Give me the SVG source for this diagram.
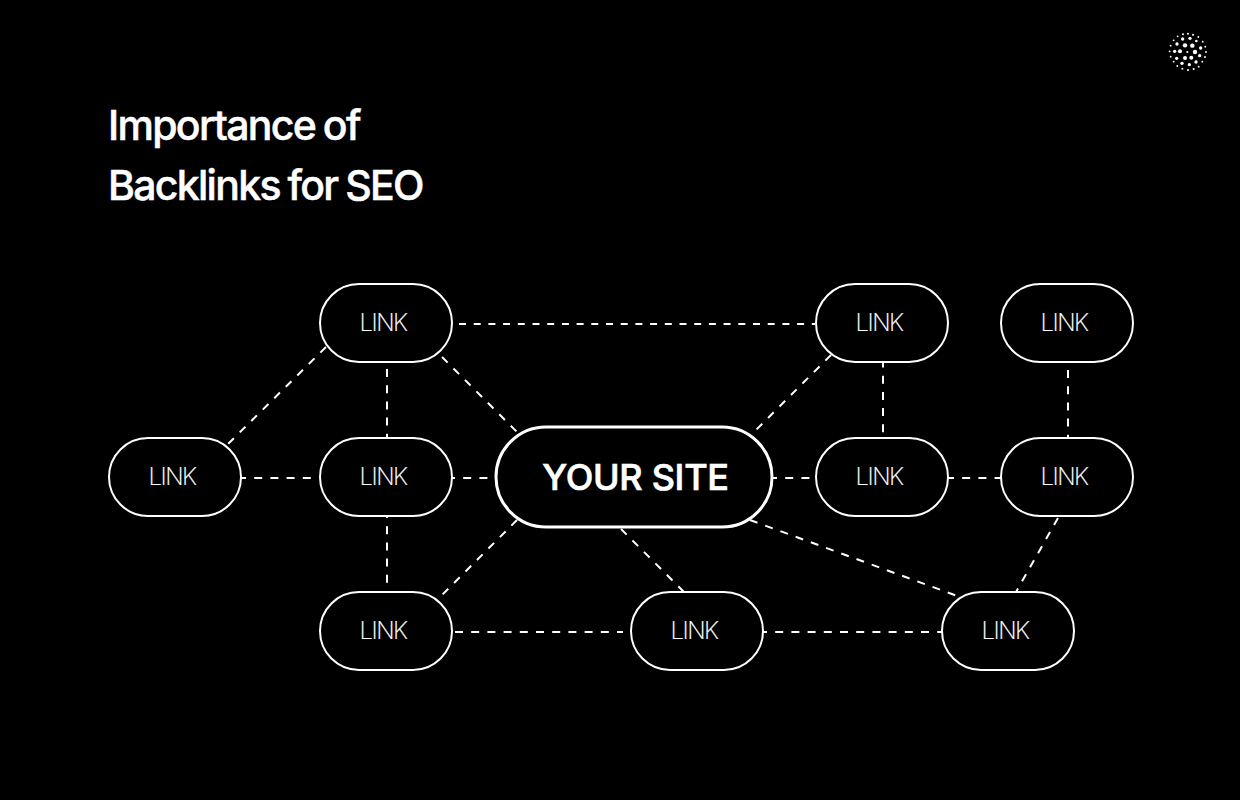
<svg xmlns="http://www.w3.org/2000/svg" width="1240" height="800" viewBox="0 0 1240 800">
<style>
.n{fill:#000;stroke:#fff;stroke-width:2}
.c{fill:#000;stroke:#fff;stroke-width:3}
.l{font-family:Inter,"Liberation Sans",sans-serif;font-weight:200;font-size:24px;fill:#fff;stroke:#fff;stroke-width:0.2px;text-anchor:middle;letter-spacing:-1.5px}
.m{font-family:Inter,"Liberation Sans",sans-serif;font-weight:500;font-size:36px;fill:#fff;stroke:#fff;stroke-width:0.7px;text-anchor:middle;letter-spacing:-0.3px}
.t{font-family:Inter,"Liberation Sans",sans-serif;font-weight:500;font-size:41px;fill:#fff;stroke:#fff;stroke-width:0.5px;letter-spacing:-1.7px;word-spacing:-1.5px}
#connectors line{stroke:#fff;stroke-width:2;stroke-dasharray:8 8.2;fill:none}
#logo circle{fill:#fff}
</style>
<rect width="1240" height="800" fill="#000"/>
<g id="logo" transform="translate(1160 24) scale(0.3333)">
<circle cx="69" cy="31" r="3.1"/><circle cx="84" cy="29" r="3.1"/><circle cx="99" cy="32" r="3.1"/>
<circle cx="53" cy="37" r="2.8"/><circle cx="115" cy="39" r="2.8"/><circle cx="41" cy="49" r="2.8"/><circle cx="128" cy="53" r="2.8"/>
<circle cx="68" cy="45" r="5"/><circle cx="90" cy="43" r="5"/><circle cx="109" cy="51" r="3.9"/>
<circle cx="51" cy="60" r="5"/><circle cx="75" cy="64" r="6.6"/><circle cx="97" cy="65" r="6.6"/>
<circle cx="32" cy="65" r="2.8"/><circle cx="136" cy="68" r="2.8"/><circle cx="122" cy="72" r="5"/>
<circle cx="29" cy="82" r="2.8"/><circle cx="44" cy="82" r="5"/><circle cx="60" cy="82" r="6"/><circle cx="82" cy="84" r="3.3"/><circle cx="105" cy="84" r="6.6"/><circle cx="138" cy="84" r="2.8"/>
<circle cx="32" cy="98" r="2.8"/><circle cx="50" cy="103" r="5"/><circle cx="75" cy="102" r="6"/><circle cx="94" cy="101" r="6"/><circle cx="119" cy="95" r="5"/><circle cx="135" cy="99" r="2.8"/>
<circle cx="41" cy="113" r="2.8"/><circle cx="66" cy="118" r="5"/><circle cx="88" cy="122" r="5"/><circle cx="108" cy="114" r="5"/><circle cx="127" cy="113" r="2.8"/>
<circle cx="52" cy="126" r="2.8"/><circle cx="116" cy="128" r="2.8"/><circle cx="67" cy="134" r="3.1"/><circle cx="84" cy="138" r="3.1"/><circle cx="101" cy="135" r="3.1"/>
</g>
<text class="t" x="108" y="140">Importance of</text>
<text class="t" x="108" y="200">Backlinks for SEO</text>
<g id="connectors">
<line x1="459" y1="324" x2="815" y2="324" style="stroke-dasharray:7 7.7"/>
<line x1="442" y1="357" x2="518" y2="433"/>
<line x1="387" y1="369" x2="387" y2="438"/>
<line x1="326" y1="347" x2="228" y2="444"/>
<line x1="238" y1="478" x2="312" y2="478"/>
<line x1="447" y1="478" x2="488" y2="478"/>
<line x1="387" y1="510" x2="387" y2="592"/>
<line x1="517" y1="520" x2="442" y2="595"/>
<line x1="621" y1="529" x2="684" y2="592"/>
<line x1="750" y1="520" x2="960" y2="597"/>
<line x1="831" y1="355" x2="755" y2="431"/>
<line x1="883" y1="359.500" x2="883" y2="434"/>
<line x1="1068" y1="370" x2="1068" y2="438"/>
<line x1="769" y1="478" x2="810" y2="478"/>
<line x1="946" y1="478" x2="1002" y2="478"/>
<line x1="1058" y1="518" x2="1016" y2="592"/>
<line x1="455" y1="632" x2="623" y2="632"/>
<line x1="759" y1="632" x2="942" y2="632"/>
</g>
<g id="n1"><rect class="n" x="320" y="284" width="132" height="78" rx="39"/><text class="l" x="383" y="331">LINK</text></g>
<g id="n2"><rect class="n" x="816" y="284" width="132" height="78" rx="39"/><text class="l" x="879" y="331">LINK</text></g>
<g id="n3"><rect class="n" x="1001" y="284" width="132" height="78" rx="39"/><text class="l" x="1064" y="331">LINK</text></g>
<g id="n4"><rect class="n" x="109" y="438" width="132" height="78" rx="39"/><text class="l" x="172" y="485">LINK</text></g>
<g id="n5"><rect class="n" x="320" y="438" width="132" height="78" rx="39"/><text class="l" x="383" y="485">LINK</text></g>
<g id="site"><rect class="c" x="496" y="427" width="276" height="100" rx="50"/><text class="m" x="635.500" y="490">YOUR SITE</text></g>
<g id="n6"><rect class="n" x="816" y="438" width="132" height="78" rx="39"/><text class="l" x="879" y="485">LINK</text></g>
<g id="n7"><rect class="n" x="1001" y="438" width="132" height="78" rx="39"/><text class="l" x="1064" y="485">LINK</text></g>
<g id="n8"><rect class="n" x="320" y="592" width="132" height="78" rx="39"/><text class="l" x="383" y="639">LINK</text></g>
<g id="n9"><rect class="n" x="631" y="592" width="132" height="78" rx="39"/><text class="l" x="694" y="639">LINK</text></g>
<g id="n10"><rect class="n" x="942" y="592" width="132" height="78" rx="39"/><text class="l" x="1005" y="639">LINK</text></g>
</svg>
